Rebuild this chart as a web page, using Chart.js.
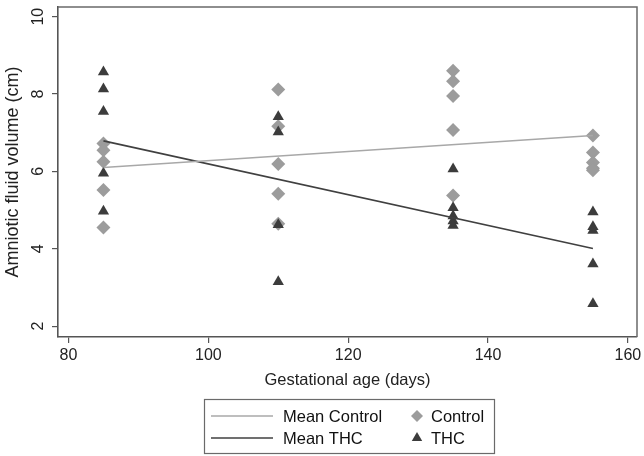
<!DOCTYPE html>
<html>
<head>
<meta charset="utf-8">
<script src="https://cdn.jsdelivr.net/npm/chart.js@4.4.1/dist/chart.umd.min.js"></script>
<style>
html,body{margin:0;padding:0;background:#fff;overflow:hidden;}
#wrap{width:644px;height:456px;position:relative;}
canvas{display:block;}
</style>
</head>
<body>
<div id="wrap"><canvas id="c" width="644" height="456" style="width:644px;height:456px"></canvas></div>
<script>
// ---- data ----
const ages = [85, 110, 135, 155];
const control85 = [6.72, 6.55, 6.25, 5.52, 4.55];
const control110 = [8.12, 7.17, 6.19, 5.42, 4.65];
const control135 = [8.60, 8.33, 7.95, 7.07, 5.38];
const control155 = [6.93, 6.49, 6.23, 6.08, 6.03];
const thc85 = [8.57, 8.13, 7.55, 5.95, 4.97];
const thc110 = [7.41, 7.02, 4.62, 3.15];
const thc135 = [6.06, 5.06, 4.85, 4.72, 4.60];
const thc155 = [4.95, 4.57, 4.47, 3.61, 2.58];
const meanAges = [85, 155];
const meanControl = [6.10, 6.93];
const meanTHC = [6.79, 4.01];
const xTicks = [80, 100, 120, 140, 160];
const yTicks = [2, 4, 6, 8, 10];
const legendLabels = ['Mean Control', 'Control', 'Mean THC', 'THC'];

function pts(groups) {
  const out = [];
  groups.forEach((g, i) => g.forEach(v => out.push({x: ages[i], y: v})));
  return out;
}
function linePts(xs, ys) { return xs.map((x, i) => ({x: x, y: ys[i]})); }

const FONT = "'Liberation Sans', Arial, sans-serif";
const ctrlColor = '#9c9c9c';
const thcColor = '#3c3c3c';

const frame = {
  id: 'frame',
  afterDraw(chart) {
    const a = chart.chartArea, c = chart.ctx;
    c.save();
    c.strokeStyle = '#6a6a6a';
    c.lineWidth = 1.5;
    c.beginPath();
    c.moveTo(a.left, a.top); c.lineTo(a.right, a.top); c.lineTo(a.right, a.bottom);
    c.stroke();
    // rotated y tick labels, positioned by the y scale
    const ys = chart.scales.y;
    c.fillStyle = '#222';
    c.font = '16px ' + FONT;
    c.textAlign = 'center';
    c.textBaseline = 'middle';
    ys.ticks.forEach(t => {
      const py = ys.getPixelForValue(t.value);
      c.save();
      c.translate(39, py);
      c.rotate(-Math.PI / 2);
      c.fillText(String(t.value), 0, 0);
      c.restore();
    });
    c.restore();
  }
};

const customLegend = {
  id: 'customLegend',
  afterDraw(chart) {
    const c = chart.ctx;
    const ds = chart.data.datasets;
    const byLabel = {};
    ds.forEach(d => byLabel[d.label] = d);
    const box = {x: 204, y: 399, w: 290, h: 54};
    c.save();
    c.strokeStyle = '#6a6a6a';
    c.lineWidth = 1.2;
    c.strokeRect(box.x + 0.5, box.y + 0.5, box.w, box.h);
    c.font = '16.5px ' + FONT;
    c.fillStyle = '#111';
    c.textBaseline = 'middle';
    const rows = [416, 438];
    legendLabels.forEach((lab, i) => {
      const d = byLabel[lab];
      const row = rows[Math.floor(i / 2)];
      const col = i % 2;
      if (col === 0) {
        c.strokeStyle = d.borderColor; c.lineWidth = d.borderWidth;
        c.beginPath(); c.moveTo(211, row); c.lineTo(273, row); c.stroke();
        c.fillStyle = '#111';
        c.fillText(lab, 283, row + 1);
      } else {
        c.fillStyle = d.backgroundColor;
        c.beginPath();
        const r = 6;
        if (d.pointStyle === 'rectRot') {
          c.moveTo(417, row - r); c.lineTo(417 + r, row); c.lineTo(417, row + r); c.lineTo(417 - r, row);
        } else {
          c.moveTo(417, row - r); c.lineTo(417 + r * 0.87, row + r * 0.5); c.lineTo(417 - r * 0.87, row + r * 0.5);
        }
        c.closePath(); c.fill();
        c.fillStyle = '#111';
        c.fillText(lab, 431, row + 1);
      }
    });
    c.restore();
  }
};

new Chart(document.getElementById('c'), {
  type: 'scatter',
  data: {
    datasets: [
      {label: 'Mean Control', type: 'line', data: linePts(meanAges, meanControl), borderColor: '#a8a8a8', backgroundColor: '#a8a8a8', borderWidth: 1.6, pointRadius: 0, fill: false, order: 0},
      {label: 'Mean THC', type: 'line', data: linePts(meanAges, meanTHC), borderColor: '#404040', backgroundColor: '#404040', borderWidth: 1.6, pointRadius: 0, fill: false, order: 0},
      {label: 'Control', data: pts([control85, control110, control135, control155]), pointStyle: 'rectRot', pointRadius: 7, backgroundColor: ctrlColor, borderColor: ctrlColor, borderWidth: 0, order: 2},
      {label: 'THC', data: pts([thc85, thc110, thc135, thc155]), pointStyle: 'triangle', pointRadius: 6.5, backgroundColor: thcColor, borderColor: thcColor, borderWidth: 0, order: 1}
    ]
  },
  options: {
    responsive: false,
    animation: false,
    devicePixelRatio: 1,
    layout: {padding: {top: 3, right: 6, left: 0, bottom: 66}},
    plugins: {legend: {display: false}, tooltip: {enabled: false}},
    scales: {
      x: {
        type: 'linear', min: 78.5, max: 161.3,
        afterBuildTicks: s => { s.ticks = xTicks.map(v => ({value: v})); },
        afterFit: s => { s.height = 53; s.paddingLeft = 0; s.paddingRight = 0; },
        grid: {drawOnChartArea: false, drawTicks: true, tickLength: 6, color: '#555', lineWidth: 1.2},
        border: {color: '#555', width: 1.6},
        ticks: {color: '#222', font: {family: FONT, size: 16}, padding: 3, maxRotation: 0},
        title: {display: true, text: 'Gestational age (days)', color: '#222', font: {family: FONT, size: 16.5}, padding: {top: 0, bottom: 0}}
      },
      y: {
        type: 'linear', min: 1.72, max: 10.25,
        afterBuildTicks: s => { s.ticks = yTicks.map(v => ({value: v})); },
        afterFit: s => { s.width = 58; s.paddingTop = 0; s.paddingBottom = 0; },
        grid: {drawOnChartArea: false, drawTicks: true, tickLength: 6, color: '#555', lineWidth: 1.2},
        border: {color: '#555', width: 1.6},
        ticks: {color: 'rgba(0,0,0,0)', font: {family: FONT, size: 16}, padding: 4},
        title: {display: true, text: 'Amniotic fluid volume (cm)', color: '#222', font: {family: FONT, size: 18}, padding: {top: 2, bottom: 0}}
      }
    }
  },
  plugins: [frame, customLegend]
});
</script>
</body>
</html>
